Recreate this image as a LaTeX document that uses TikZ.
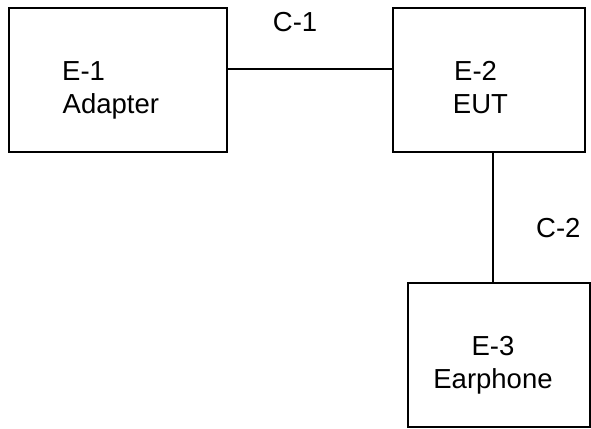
\documentclass[tikz,border=0pt]{standalone}
\usepackage{fontspec}
\setmainfont{Liberation Sans}
\begin{document}
\begin{tikzpicture}[x=1pt,y=-1pt,
  box/.style={draw,line width=1.4pt},
  wire/.style={line width=1.4pt},
  lbl/.style={inner sep=0pt,anchor=base west,font=\fontsize{27.5}{33}\selectfont},
  clbl/.style={inner sep=0pt,anchor=base,font=\fontsize{27.5}{33}\selectfont}]
\useasboundingbox (0,0) rectangle (591,428);
\draw[box] (9,8) rectangle (227,152);
\draw[box] (393,8) rectangle (585,152);
\draw[box] (408,283) rectangle (590,427);
\coordinate (e1r) at (227,69);
\coordinate (e2l) at (393,69);
\coordinate (e2b) at (493,152);
\coordinate (e3t) at (493,283);
\draw[wire] (e1r) -- (e2l);
\draw[wire] (e2b) -- (e3t);
\node[lbl] (t1a) at (62,80) {E-1};
\node[lbl] (t1b) at (62.5,113) {Adapter};
\node[lbl] (t2a) at (454,80) {E-2};
\node[lbl] (t2b) at (452.7,113) {EUT};
\node[clbl] (t3a) at (493,355) {E-3};
\node[clbl] (t3b) at (493,388) {Earphone};
\node[lbl] (c1) at (272.7,32) {C-1};
\node[lbl] (c2) at (536,237.3) {C-2};
\end{tikzpicture}
\end{document}
